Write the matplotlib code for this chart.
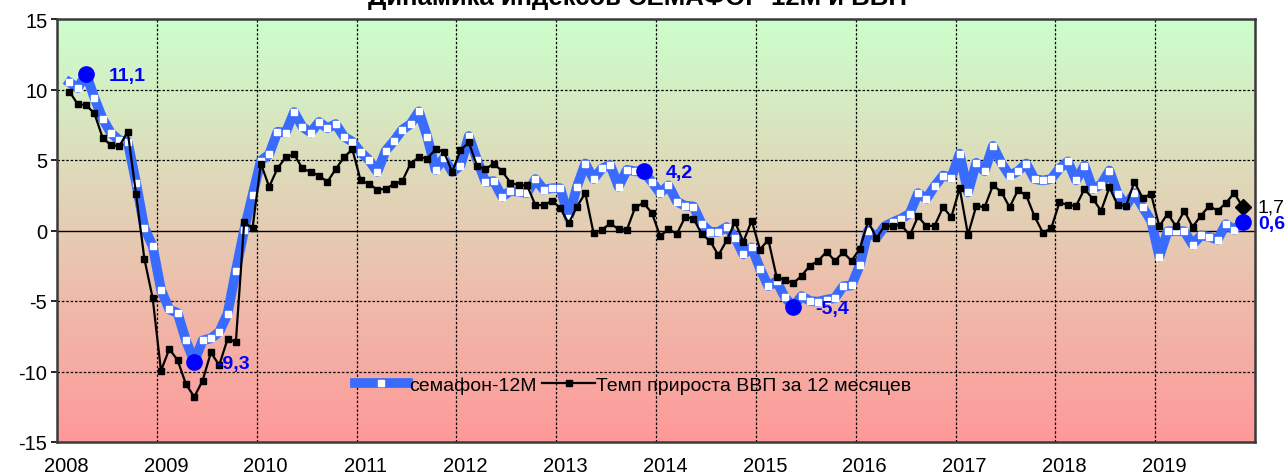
import numpy as np
import matplotlib
matplotlib.use('Agg')
import matplotlib.pyplot as plt

plt.rcParams['font.family'] = ['Liberation Sans', 'DejaVu Sans']

# monthly data, Feb 2008 .. Nov 2019
semafor = [
    10.5, 10.1, 11.1, 9.4, 7.9, 6.9, 6.4, 6.3, 3.4, 0.2, -1.1,
    -4.2, -5.6, -5.85, -7.8, -9.3, -7.8, -7.65, -7.2, -5.9, -2.85, 0.05, 2.5,
    4.95, 5.4, 7.0, 6.95, 8.4, 7.35, 6.95, 7.7, 7.25, 7.55, 6.65, 6.3,
    5.55, 5.0, 4.15, 5.65, 6.35, 7.15, 7.55, 8.45, 6.65, 4.3, 5.15, 4.15,
    4.6, 6.7, 5.0, 3.45, 3.5, 2.4, 2.8, 2.75, 2.65, 3.65, 2.9, 3.0,
    3.0, 0.9, 3.1, 4.75, 3.65, 4.4, 4.65, 3.1, 4.3, 4.2, 4.2, 3.45,
    2.65, 3.2, 2.05, 1.75, 1.7, 0.45, -0.1, -0.1, 0.25, -0.5, -1.7, -1.2,
    -2.7, -3.95, -3.6, -4.75, -5.4, -4.65, -5.0, -5.05, -4.9, -4.8, -3.95, -3.9,
    -2.45, 0.0, -0.5, 0.3, 0.6, 0.85, 1.2, 2.65, 2.25, 3.15, 3.9, 3.75,
    5.45, 2.7, 4.8, 4.2, 6.0, 4.8, 3.9, 4.2, 4.75, 3.65, 3.55, 3.65,
    4.4, 4.9, 3.55, 4.6, 2.95, 3.25, 4.25, 2.6, 1.75, 2.65, 1.65, 0.7,
    -1.85, -0.05, -0.05, -0.05, -1.0, -0.35, -0.45, -0.65, 0.45, 0.05, 0.6,
]
gdp = [
    9.85, 8.95, 8.9, 8.3, 6.55, 6.05, 6.0, 7.0, 2.6, -2.0, -4.8,
    -9.95, -8.4, -9.2, -10.9, -11.8, -10.65, -8.65, -9.55, -7.7, -7.9, 0.6, 0.15,
    4.75, 3.1, 4.4, 5.2, 5.4, 4.4, 4.15, 3.9, 3.45, 4.35, 5.2, 5.75,
    3.55, 3.3, 2.9, 2.95, 3.3, 3.5, 4.75, 5.2, 5.1, 5.75, 5.6, 4.15,
    5.7, 6.25, 4.55, 4.35, 4.75, 4.2, 3.4, 3.2, 3.2, 1.8, 1.8, 2.1,
    1.6, 0.5, 1.7, 2.65, -0.2, 0.05, 0.5, 0.1, 0.05, 1.65, 1.95, 1.25,
    -0.4, 0.1, -0.25, 0.95, 0.85, -0.25, -0.75, -1.75, -0.7, 0.6, -0.8, 0.7,
    -1.35, -0.65, -3.3, -3.5, -3.75, -3.2, -2.5, -2.15, -1.5, -2.15, -1.55, -2.15,
    -1.3, 0.65, -0.55, 0.35, 0.3, 0.4, -0.35, 1.0, 0.3, 0.35, 1.65, 0.95,
    3.0, -0.3, 1.75, 1.65, 3.2, 2.75, 1.65, 2.85, 2.5, 1.0, -0.15, 0.15,
    2.0, 1.8, 1.75, 2.95, 2.25, 1.4, 3.05, 1.8, 1.75, 3.45, 2.3, 2.6,
    0.3, 1.2, 0.3, 1.4, 0.25, 1.05, 1.75, 1.4, 1.95, 2.65, 1.7,
]
highlight_idx = [2, 15, 69, 87, 141]
years = list(range(2008, 2020))
y_ticks = [15, 10, 5, 0, -5, -10, -15]

title = 'Динамика индексов СЕМАФОР-12М и ВВП'
label_semafor = 'семафон-12М'
label_gdp = 'Темп прироста ВВП за 12 месяцев'

semafor = np.array(semafor)
gdp = np.array(gdp)
x = 2008 + (1.5 + np.arange(len(semafor))) / 12

fig = plt.figure(figsize=(12.88, 4.77), dpi=100)
ax = fig.add_axes([57 / 1288, 34 / 477, 1198 / 1288, 423 / 477])

# green -> red background
top = np.array([204, 255, 204]) / 255
bot = np.array([255, 153, 153]) / 255
t = np.linspace(0, 1, 256)[:, None]
grad = (top * (1 - t) + bot * t)[:, None, :]
ax.imshow(grad, extent=[2008, 2020, -15, 15], aspect='auto', zorder=0)

ax.set_xlim(2008, 2020)
ax.set_ylim(-15, 15)

for yy in [-10, -5, 5, 10]:
    ax.axhline(yy, color='black', lw=0.9, ls=(0, (2, 1.5)), zorder=1)
for yr in years[1:]:
    ax.axvline(yr, color='black', lw=0.9, ls=(0, (2, 1.5)), zorder=1)
ax.axhline(0, color='black', lw=1.0, zorder=1)

ax.plot(x, semafor, color='#3a6bff', lw=7, marker='s', ms=4.2,
        mfc='white', mec='white', solid_joinstyle='round', zorder=3,
        label=label_semafor)
ax.plot(x[:-1], gdp[:-1], color='black', lw=1.6, marker='s', ms=4.8,
        zorder=4, label=label_gdp)
ax.plot(x[-2:], gdp[-2:], color='black', lw=1.6, zorder=4)
ax.plot(x[-1], gdp[-1], marker='D', color='black', ms=8, zorder=5)

for i in highlight_idx:
    ax.plot(x[i], semafor[i], 'o', color='#0000ff', ms=11, zorder=6)
    dx = 11 if i == highlight_idx[-1] else 16
    ax.annotate(f'{semafor[i]:.1f}'.replace('.', ','), (x[i], semafor[i]),
                xytext=(dx, -1), textcoords='offset points', ha='left',
                va='center', color='#0000ff', fontsize=14, fontweight='bold',
                zorder=7)
ax.annotate(f'{gdp[-1]:.1f}'.replace('.', ','), (x[-1], gdp[-1]),
            xytext=(11, 0), textcoords='offset points', ha='left',
            va='center', color='black', fontsize=14, zorder=7)

ax.set_xticks([y + 0.09 for y in years])
ax.set_xticklabels([str(y) for y in years], fontsize=14.5)
ax.tick_params(axis='x', length=0, pad=10)
ax.set_yticks(y_ticks)
ax.set_yticklabels([str(v) for v in y_ticks], fontsize=14.5)
ax.tick_params(axis='y', length=4, width=1.2, pad=3)

for s in ax.spines.values():
    s.set_color('#3a3a3a')
    s.set_linewidth(1.8)
    s.set_zorder(8)

leg = ax.legend(loc='center left', bbox_to_anchor=((355 - 57) / 1198, 57 / 423),
                ncol=2, frameon=False, fontsize=14, handlelength=2.7,
                handletextpad=0.08, columnspacing=0.3, borderpad=0,
                borderaxespad=0)

fig.text(638 / 1288, 1 - 5 / 477, title, ha='center', va='baseline',
         fontsize=18.5, fontweight='bold')

fig.savefig('out.png', dpi=100)
